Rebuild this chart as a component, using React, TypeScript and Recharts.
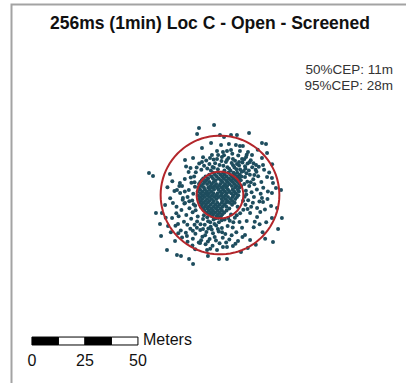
import React from 'react';
import { ScatterChart, Scatter, XAxis, YAxis, ReferenceArea } from 'recharts';

// GPS fixes, metres east / north of the mean position
const corePoints: [number, number][] = [
  [-3.2, 10.5], [-0.8, 10.5], [1.5, 10.5], [3.9, 10.5], [6.4, 10.5], [8.1, 10.5],
  [-5.1, 9.6], [-2.4, 9.6], [0.3, 9.6], [2.2, 9.6], [4.8, 9.6], [7.0, 9.6], [9.3, 9.6],
  [-6.8, 8.7], [-4.0, 8.7], [-1.5, 8.7], [1.0, 8.7], [3.1, 8.7], [5.6, 8.7], [8.2, 8.7], [10.1, 8.7],
  [-7.9, 7.8], [-5.6, 7.8], [-3.3, 7.8], [-0.6, 7.8], [1.8, 7.8], [4.2, 7.8], [6.3, 7.8], [9.0, 7.8],
  [-8.6, 7.0], [-6.4, 7.0], [-2.1, 7.0], [0.4, 7.0], [2.9, 7.0], [5.1, 7.0], [7.4, 7.0], [9.8, 7.0],
  [-9.3, 6.1], [-7.2, 6.1], [-5.0, 6.1], [-3.0, 6.1], [1.2, 6.1], [3.6, 6.1], [6.0, 6.1], [8.3, 6.1],
  [-9.9, 5.2], [-8.0, 5.2], [-6.1, 5.2], [-3.9, 5.2], [-1.8, 5.2], [0.1, 5.2], [2.4, 5.2], [4.5, 5.2], [6.9, 5.2], [9.1, 5.2],
  [-8.9, 4.3], [-4.6, 4.3], [-2.6, 4.3], [-0.5, 4.3], [1.7, 4.3], [3.4, 4.3], [5.6, 4.3], [7.9, 4.3], [10.0, 4.3],
  [-10.2, 3.5], [-7.6, 3.5], [-5.5, 3.5], [-3.5, 3.5], [-1.4, 3.5], [0.8, 3.5], [2.9, 3.5], [7.1, 3.5], [9.2, 3.5],
  [-9.4, 2.6], [-7.1, 2.6], [-4.9, 2.6], [-2.8, 2.6], [-0.7, 2.6], [1.5, 2.6], [3.7, 2.6], [6.0, 2.6], [8.4, 2.6],
  [-10.5, 1.7], [-8.3, 1.7], [-6.2, 1.7], [-4.1, 1.7], [0.2, 1.7], [2.3, 1.7], [4.4, 1.7], [6.7, 1.7], [8.9, 1.7],
  [-9.1, 0.8], [-7.0, 0.8], [-5.2, 0.8], [-3.1, 0.8], [-1.1, 0.8], [1.0, 0.8], [3.2, 0.8], [5.3, 0.8], [7.5, 0.8],
  [-10.4, -0.1], [-8.1, -0.1], [-6.0, -0.1], [-3.8, -0.1], [-1.7, -0.1], [0.5, -0.1], [2.6, -0.1], [6.3, -0.1], [8.6, -0.1],
  [-9.3, -1.0], [-7.3, -1.0], [-4.9, -1.0], [-2.7, -1.0], [-0.6, -1.0], [1.6, -1.0], [3.8, -1.0], [5.9, -1.0], [8.0, -1.0],
  [-10.1, -1.9], [-8.4, -1.9], [-6.1, -1.9], [-3.9, -1.9], [-1.6, -1.9], [0.7, -1.9], [2.7, -1.9], [4.9, -1.9], [7.2, -1.9],
  [-9.0, -2.8], [-7.0, -2.8], [-5.0, -2.8], [-2.9, -2.8], [1.4, -2.8], [3.5, -2.8], [5.8, -2.8],
  [-9.6, -3.7], [-7.8, -3.7], [-5.7, -3.7], [-3.4, -3.7], [-1.3, -3.7], [0.8, -3.7], [2.9, -3.7], [4.6, -3.7], [6.9, -3.7],
  [-8.5, -4.6], [-6.6, -4.6], [-4.4, -4.6], [-2.2, -4.6], [-0.2, -4.6], [2.0, -4.6], [5.7, -4.6],
  [-9.0, -5.5], [-7.1, -5.5], [-5.3, -5.5], [-3.0, -5.5], [-1.0, -5.5], [1.2, -5.5], [3.0, -5.5],
  [-8.0, -6.4], [-5.9, -6.4], [-4.0, -6.4], [-1.9, -6.4], [0.3, -6.4], [4.4, -6.4],
  [-7.4, -7.3], [-5.2, -7.3], [-3.3, -7.3], [-1.1, -7.3], [0.9, -7.3], [3.1, -7.3],
  [-6.2, -8.2], [-4.2, -8.2], [-2.3, -8.2], [-0.2, -8.2], [2.0, -8.2],
  [-5.0, -9.1], [-3.1, -9.1], [-1.0, -9.1], [1.1, -9.1],
  [-3.8, -10.0], [-1.6, -10.0], [0.4, -10.0],
];

const nearPoints: [number, number][] = [
  // north-east spread just outside the 50% circle
  [-7.5, 13.8], [-5.0, 14.6], [-2.9, 12.8], [-0.2, 14.2], [2.1, 11.6], [3.5, 13.1], [5.0, 11.4], [6.2, 14.0],
  [7.8, 12.1], [9.0, 13.9], [10.2, 11.0], [12.0, 12.5], [-4.3, 11.5], [0.7, 16.0], [4.0, 17.4], [7.1, 16.1],
  [8.6, 18.6], [11.4, 16.9], [13.9, 15.4], [-8.0, 17.8], [-3.0, 16.7], [1.9, 18.7], [5.8, 19.4], [12.6, 19.0],
  [15.8, 15.0], [16.2, 9.4], [14.5, 6.0], [11.5, 5.2], [12.4, 0.2], [10.9, -2.7], [13.0, -6.6], [9.5, -8.6],
  [8.3, -5.6], [7.9, -9.6], [5.2, -9.2], [3.9, -10.8], [6.3, -12.9],
  // south-west spread
  [-11.5, -7.2], [-10.8, -12.5], [-9.2, -13.8], [-7.6, -9.6], [-6.0, -10.5], [-4.6, -12.9], [-2.0, -11.0],
  [-0.8, -10.9], [0.8, -11.9], [-2.6, -13.7], [-5.5, -15.8], [-8.0, -16.0], [-10.9, -15.5], [-12.8, -16.9],
  [-7.0, -19.0], [-3.9, -16.3], [-1.0, -16.0], [1.0, -17.6], [-2.5, -19.8], [-5.7, -21.9], [-8.9, -21.3],
  [-12.8, -20.6], [-0.2, -22.8], [2.9, -22.4], [-15.4, -14.0], [-16.1, -17.8], [-13.0, -23.8], [-4.6, -25.3],
  [-11.7, -25.6], [-15.3, -22.0], [-17.9, -20.0], [-19.7, -18.0], [-23.2, -17.6],
  // west
  [-12.0, 6.0], [-13.8, 8.3], [-12.4, -4.4], [-14.5, -2.9], [-16.6, 1.6], [-17.6, -2.2], [-19.2, 4.2],
  [-13.9, 12.7], [-11.4, 10.7], [-20.6, -8.6], [-21.5, 1.9], [-24.8, 3.6], [-25.6, -10.7], [-23.6, 9.9],
  // east
  [20.4, 3.4], [22.6, 1.6], [19.2, 0.6], [21.2, -6.8], [17.5, -6.1], [15.5, -3.7], [22.4, -1.9], [23.2, 10.6],
  [18.3, 13.3], [19.8, 17.4], [17.8, 21.3], [24.6, 14.5], [15.9, -15.2], [18.7, -13.8], [20.1, -17.6],
  [10.6, -19.8], [7.3, -23.0], [13.1, -25.0], [16.9, -23.5], [21.3, -20.6],
];

const ringPoints: [number, number][] = [
  // north
  [-6.0, 12.5], [-3.5, 13.2], [-1.0, 12.1], [1.6, 13.8], [4.3, 12.4], [6.8, 13.0], [9.5, 12.0], [11.8, 13.6],
  [13.6, 11.6], [-8.8, 11.9], [-11.0, 13.0], [-2.3, 15.0], [2.8, 15.6], [5.5, 15.1], [8.0, 14.6], [10.6, 15.3],
  [13.0, 14.8], [15.2, 13.1], [-6.5, 16.3], [-9.8, 14.8], [14.5, 16.4], [16.8, 11.9], [11.2, 11.3], [12.5, 10.2],
  // east
  [11.8, 8.5], [12.9, 6.3], [14.1, 9.6], [15.7, 7.4], [13.8, 4.2], [16.2, 5.1], [18.0, 8.9], [12.2, 2.0],
  [14.9, 1.3], [17.4, 2.6], [11.6, -0.8], [13.3, -2.5], [16.0, -1.0], [18.6, -3.1], [12.0, -4.6], [14.7, -5.5],
  [11.0, -7.0], [17.2, 11.0], [19.5, 6.1], [20.8, 11.9], [19.0, -8.0], [16.4, -12.6], [21.8, -12.8],
  // south
  [-8.0, -11.3], [-5.6, -12.4], [-3.0, -11.6], [-0.5, -12.8], [2.2, -11.5], [4.6, -12.2], [7.0, -10.7],
  [-10.5, -10.1], [-7.2, -14.0], [-4.4, -15.0], [-1.8, -14.4], [0.9, -15.6], [3.6, -14.6], [6.0, -15.3],
  [9.2, -12.7], [-9.3, -16.5], [-6.4, -17.4], [-3.3, -18.0], [-0.6, -17.2], [2.5, -18.4], [-11.6, -18.3],
  [-8.3, -19.7], [-4.9, -20.8], [-1.9, -21.5], [1.3, -20.2], [4.4, -21.0], [-12.0, -14.0], [-10.0, -22.4],
  [-6.8, -23.2], [-3.5, -23.9], [7.7, -17.6], [10.4, -15.4], [12.6, -12.3], [5.5, -19.0],
  // west
  [-12.2, 8.7], [-13.5, 5.8], [-11.8, 3.9], [-14.7, 2.4], [-12.6, 0.6], [-15.3, -0.9], [-13.1, -2.6],
  [-11.7, -5.1], [-14.4, -6.2], [-16.8, -4.0], [-12.9, -8.1], [-15.9, -9.4], [-18.2, -7.1], [-13.6, -11.2],
  [-17.0, -12.6], [-19.5, -10.0], [-14.8, 10.9], [-16.6, 7.5], [-18.8, 1.0], [-20.5, -5.5], [-16.0, 13.4],
  [-21.0, -14.5], [-18.5, -16.8], [-14.0, -15.9], [-22.5, 6.5], [-23.5, -1.5],
];

const outerPoints: [number, number][] = [
  [-9.9, 31.6], [-2.8, 33.0], [-10.8, 28.8], [0.0, 28.3], [1.9, 27.4], [5.2, 28.3], [8.0, 28.3], [13.7, 29.2],
  [19.8, 24.5], [21.7, 24.1], [22.2, 19.8], [-8.5, 22.2], [-4.2, 24.5], [0.5, 23.6], [4.2, 24.1], [7.5, 23.6],
  [9.4, 23.1], [10.8, 23.1], [13.2, 20.3], [-1.4, 20.8], [1.4, 20.3], [3.3, 20.8], [5.2, 21.2], [9.4, 20.8],
  [-3.8, 18.9], [-0.9, 18.9], [-16.5, 16.5], [-12.7, 17.5], [-8.5, 15.6], [-4.7, 17.5], [-1.4, 17.0], [0.9, 17.9],
  [3.3, 16.5], [6.1, 17.0], [9.0, 15.6], [12.3, 17.9], [15.1, 18.9], [20.3, 14.2], [17.0, 14.2], [10.4, 17.0],
  [-33.5, 10.4], [-31.6, 9.0], [-30.2, -8.5], [-27.4, -8.5], [-22.2, -3.8], [-20.3, 2.4], [-18.9, 5.7],
  [-17.9, 4.2], [-17.5, -1.4], [-16.5, -3.8], [22.2, 8.5], [24.5, 8.0], [25.0, 5.7], [26.4, 3.3], [24.5, 0.9],
  [19.8, -1.4], [20.3, -3.3], [24.1, -5.2], [26.9, -6.1], [24.5, -10.8], [17.5, -10.4], [14.2, -8.5],
  [-27.8, -19.3], [-25.0, -25.9], [-20.3, -28.3], [-18.4, -28.8], [-14.6, -30.2], [-12.7, -32.5], [-5.7, -28.8],
  [-0.5, -30.2], [3.3, -30.2], [1.4, -24.5], [3.3, -24.5], [-1.4, -25.9], [-6.1, -25.9], [-9.4, -22.6],
  [-21.2, -21.7], [-15.6, -19.3], [8.5, -21.7], [11.8, -18.9], [14.2, -21.2], [25.0, -22.2], [27.4, -16.0],
  [9.9, -26.9], [6.1, -24.1], [-24.5, -14.6], [-28.3, -13.7], [-22.6, -10.8], [-19.8, -13.7], [-25.9, -4.7],
  [29.2, -10.8], [28.8, 2.4],
];

const cepLevels = [
  { label: '50%CEP', radius: 11 },
  { label: '95%CEP', radius: 28 },
];

const scaleTicks = [0, 25, 50];

const fixes = [...corePoints, ...nearPoints, ...ringPoints, ...outerPoints].map(([e, n]) => ({ e, n }));

const circleData = (r: number) =>
  Array.from({ length: 91 }, (_, i) => {
    const a = (i / 90) * Math.PI * 2;
    return { e: r * Math.cos(a), n: r * Math.sin(a) };
  });

// scale bar anchored in map metres (lower left of the frame)
const BAR_X0 = -88.7;
const BAR_Y0 = -67.0;
const BAR_Y1 = -70.75;
const BAR_STEP = 12.5;

const App = () => {
  const segments = [0, 1, 2, 3];
  return (
    <div style={{ position: 'absolute', left: 0, top: 0, width: 406, height: 383, background: '#fff', fontFamily: '"Liberation Sans", Arial, sans-serif' }}>
      <ScatterChart width={406} height={383} margin={{ top: 0, right: 0, bottom: 0, left: 0 }}>
        <XAxis type="number" dataKey="e" domain={[-103.77, 87.74]} allowDataOverflow hide />
        <YAxis type="number" dataKey="n" domain={[-88.68, 91.98]} allowDataOverflow hide />
        <Scatter
          data={fixes}
          isAnimationActive={false}
          shape={(p: any) => <circle cx={p.cx} cy={p.cy} r={2} fill="#1e4d5e" />}
        />
        {cepLevels.map((c) => (
          <Scatter
            key={c.label}
            data={circleData(c.radius)}
            isAnimationActive={false}
            line={{ stroke: '#b3262b', strokeWidth: 2 }}
            lineType="joint"
            shape={() => <g />}
          />
        ))}
        {segments.map((s) => (
          <ReferenceArea
            key={s}
            x1={BAR_X0 + s * BAR_STEP}
            x2={BAR_X0 + (s + 1) * BAR_STEP}
            y1={BAR_Y1}
            y2={BAR_Y0}
            fill={s % 2 === 0 ? '#000' : '#fff'}
            fillOpacity={1}
            stroke="#000"
            strokeWidth={1}
          />
        ))}
      </ScatterChart>
      <svg width={406} height={383} style={{ position: 'absolute', left: 0, top: 0, pointerEvents: 'none' }}>
        <polyline points="11.5,383 11.5,4.5 406,4.5" fill="none" stroke="#a3a3a3" strokeWidth={2} />
        <text x={210} y={29} textAnchor="middle" fontSize={17.5} fontWeight="bold" fill="#111">
          256ms (1min) Loc C - Open - Screened
        </text>
        {cepLevels.map((c, i) => (
          <text key={c.label} x={393} y={74 + i * 15.5} textAnchor="end" fontSize={13.5} fill="#333">
            {`${c.label}: ${c.radius}m`}
          </text>
        ))}
        <text x={143} y={345} fontSize={16} fill="#111">Meters</text>
        {scaleTicks.map((t) => (
          <text key={t} x={32 + t * 2.12} y={366} textAnchor="middle" fontSize={16} fill="#111">
            {t}
          </text>
        ))}
      </svg>
    </div>
  );
};

export default App;
